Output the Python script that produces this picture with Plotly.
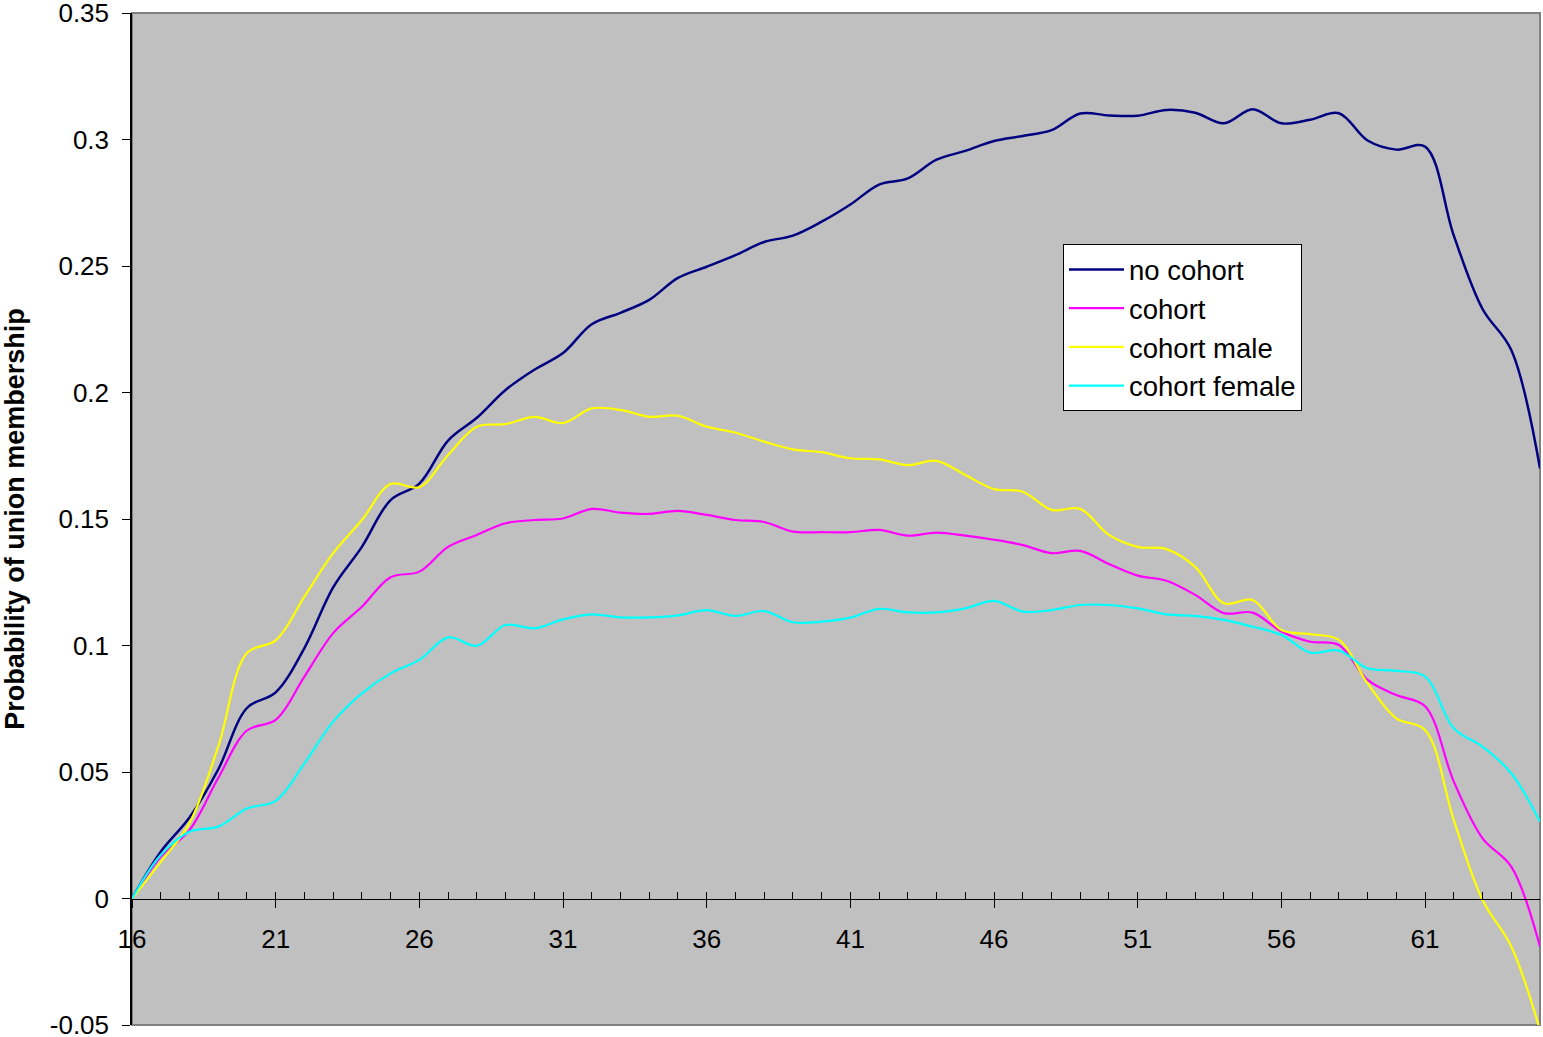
import plotly.graph_objects as go

ages = list(range(16, 66))

no_cohort = [0.0, 0.0185, 0.032, 0.051, 0.0753, 0.0815, 0.099, 0.123, 0.139, 0.1575,
             0.164, 0.181, 0.190, 0.201, 0.209, 0.2156, 0.227, 0.2315, 0.2366, 0.2453,
             0.2497, 0.2543, 0.2595, 0.262, 0.2675, 0.2743, 0.2822, 0.2846, 0.292, 0.2955,
             0.2994, 0.3014, 0.3037, 0.3103, 0.3095, 0.3094, 0.3117, 0.3106, 0.3064, 0.312,
             0.3064, 0.3078, 0.3104, 0.2996, 0.296, 0.2972, 0.262, 0.233, 0.2168, 0.170]

cohort = [0.0, 0.0165, 0.027, 0.0476, 0.0664, 0.0706, 0.0877, 0.1049, 0.1153, 0.127,
          0.1292, 0.139, 0.1437, 0.1483, 0.1496, 0.1502, 0.154, 0.1525, 0.152, 0.1532,
          0.1516, 0.1496, 0.1488, 0.145, 0.1448, 0.1448, 0.1457, 0.1434, 0.1446, 0.1434,
          0.1418, 0.1397, 0.1365, 0.1374, 0.1322, 0.1276, 0.1256, 0.120, 0.1128, 0.113,
          0.1055, 0.1015, 0.1002, 0.0864, 0.0804, 0.076, 0.0462, 0.0238, 0.0126, -0.019]

cohort_male = [0.0, 0.0145, 0.0298, 0.060, 0.097, 0.102, 0.1193, 0.1365, 0.1496, 0.1638,
               0.1626, 0.1753, 0.1865, 0.1875, 0.1904, 0.1879, 0.1937, 0.1931, 0.1904, 0.1908,
               0.1865, 0.1841, 0.1806, 0.1775, 0.1764, 0.174, 0.1736, 0.1713, 0.173, 0.1674,
               0.1618, 0.1608, 0.1536, 0.154, 0.1437, 0.139, 0.1381, 0.1311, 0.1167, 0.118,
               0.1061, 0.1045, 0.1022, 0.085, 0.0712, 0.0666, 0.031, -0.0006, -0.019, -0.052]

cohort_female = [0.0, 0.0172, 0.0264, 0.0284, 0.0356, 0.0386, 0.0534, 0.0699, 0.0811, 0.089,
                 0.0943, 0.1032, 0.0999, 0.1081, 0.1068, 0.1103, 0.1123, 0.1111, 0.1111, 0.1119,
                 0.114, 0.1117, 0.1136, 0.1092, 0.1094, 0.111, 0.1145, 0.1131, 0.1131, 0.1147,
                 0.1176, 0.1134, 0.114, 0.116, 0.116, 0.1147, 0.1123, 0.1117, 0.1101, 0.1074,
                 0.1042, 0.0972, 0.098, 0.091, 0.09, 0.0877, 0.0673, 0.060, 0.0495, 0.0304]

series_names = ["no cohort", "cohort", "cohort male", "cohort female"]
series_colors = ["#000080", "#FF00FF", "#FFFF00", "#00FFFF"]
series_widths = [2.5, 2.2, 2.2, 2.2]

x_tick_vals = [16, 21, 26, 31, 36, 41, 46, 51, 56, 61]
x_tick_text = ["16", "21", "26", "31", "36", "41", "46", "51", "56", "61"]
y_tick_vals = [-0.05, 0, 0.05, 0.1, 0.15, 0.2, 0.25, 0.3, 0.35]
y_tick_text = ["-0.05", "0", "0.05", "0.1", "0.15", "0.2", "0.25", "0.3", "0.35"]

FONT = "Liberation Sans, Arial, sans-serif"

fig = go.Figure()
for name, vals, col, w in zip(series_names, [no_cohort, cohort, cohort_male, cohort_female],
                              series_colors, series_widths):
    fig.add_trace(go.Scatter(x=ages, y=vals, name=name, mode="lines",
                             line=dict(color=col, width=w, shape="spline", smoothing=1.0)))

# invisible helper trace so the minor-tick overlay axis is drawn
fig.add_trace(go.Scatter(x=ages, y=no_cohort, xaxis="x2", mode="lines",
                         line=dict(width=0), opacity=0, showlegend=False, hoverinfo="skip"))

zero_pos = (0 - (-0.05)) / (0.35 - (-0.05))

fig.update_layout(
    width=1543, height=1037,
    margin=dict(l=132, r=3, t=13, b=12, autoexpand=False),
    paper_bgcolor="white",
    plot_bgcolor="#C0C0C0",
    font=dict(family=FONT, size=26, color="black"),
    showlegend=True,
    legend=dict(x=(1063 - 132) / 1408, y=(1025 - 244) / 1012, xanchor="left", yanchor="top",
                bgcolor="white", bordercolor="black", borderwidth=1, itemwidth=55,
                font=dict(family=FONT, size=27.5, color="black"), tracegroupgap=0),
    xaxis=dict(range=[16, 65], anchor="free", position=zero_pos, automargin=False,
               tickvals=x_tick_vals, ticktext=x_tick_text,
               ticks="outside", ticklen=8, tickwidth=1, tickcolor="black",
               showline=True, linecolor="black", linewidth=1,
               showgrid=False, zeroline=False, ticklabelstandoff=9,
               ticklabeloverflow="allow",
               tickfont=dict(family=FONT, size=26, color="black")),
    xaxis2=dict(range=[16, 65], overlaying="x", anchor="free", position=zero_pos,
                automargin=False,
                tick0=16, dtick=1, ticks="inside", ticklen=7, tickwidth=1, tickcolor="black",
                showticklabels=False, showline=False, showgrid=False, zeroline=False),
    yaxis=dict(range=[-0.05, 0.35], tickvals=y_tick_vals, ticktext=y_tick_text,
               automargin=False,
               ticks="outside", ticklen=8, tickwidth=1, tickcolor="black",
               showline=True, linecolor="black", linewidth=1.5,
               showgrid=False, zeroline=False, ticklabelstandoff=8,
               ticklabeloverflow="allow",
               tickfont=dict(family=FONT, size=26, color="black"),
               title=dict(text="<b>Probability of union membership</b>", standoff=21,
                          font=dict(family=FONT, size=27, color="black"))),
    shapes=[dict(type="rect", xref="paper", yref="paper", x0=0, x1=1, y0=0, y1=1,
                 line=dict(color="#808080", width=2), layer="below")],
)

fig.write_html("out.html", config={"displayModeBar": False},
               post_script="document.body.style.margin='0';document.body.style.overflow='hidden';")
